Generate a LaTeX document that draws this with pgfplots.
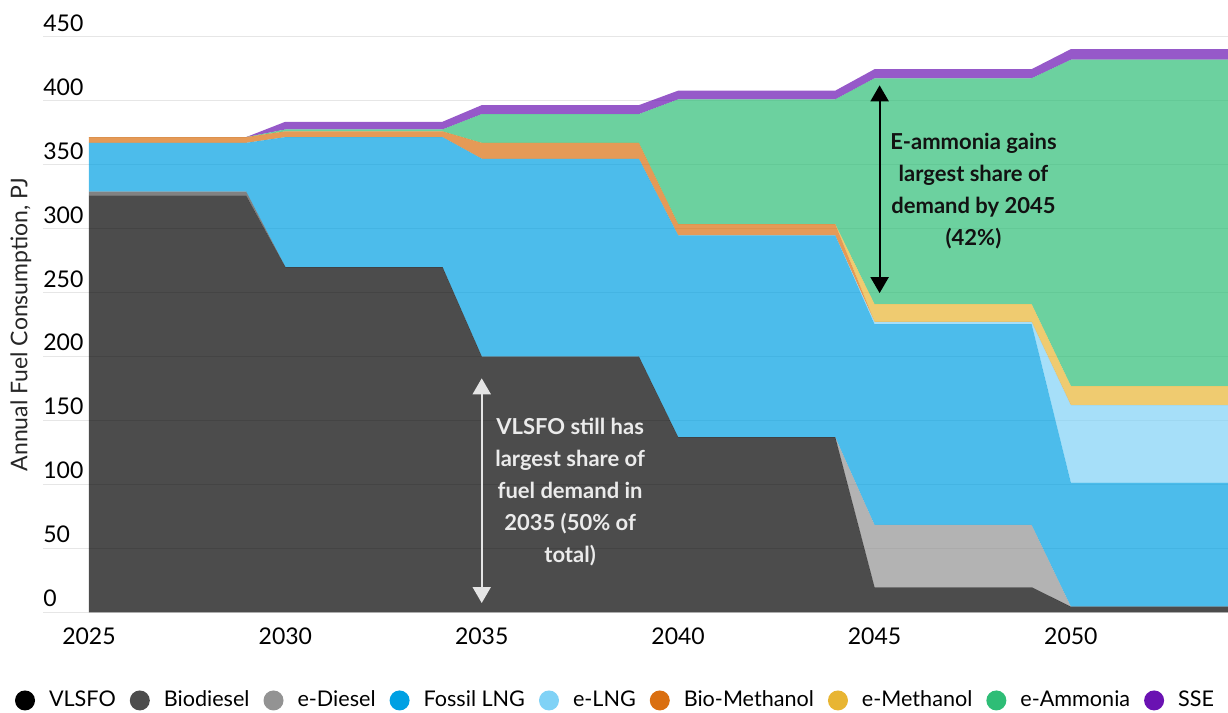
\documentclass[border=0pt]{standalone}
\usepackage{fontspec}
\setmainfont{Lato}
\usepackage{pgfplots}
\usepackage{pgfplotstable}
\pgfplotsset{compat=1.18}
\usetikzlibrary{arrows.meta}
\definecolor{cVLSFO}{HTML}{000000}
\definecolor{cBio}{HTML}{4D4D4D}
\definecolor{cEDiesel}{HTML}{939393}
\definecolor{cLNG}{HTML}{00A0E3}
\definecolor{cELNG}{HTML}{80D2F6}
\definecolor{cBioMeth}{HTML}{DA6F10}
\definecolor{cEMeth}{HTML}{E8B533}
\definecolor{cEAmm}{HTML}{2EBD76}
\definecolor{cSSE}{HTML}{6A12B2}
\definecolor{gridgray}{HTML}{E6E6E6}
\pgfplotstableread{
year VLSFO Bio EDiesel LNG ELNG BioMeth EMeth EAmm SSE
2025 326   3   0      38    0    4.5     0    0     0
2029 326   3   0      38    0    4.5     0    0     0
2030 270   0   0      101.5 0    4.5     0    1.5   6
2034 270   0   0      101.5 0    4.5     0    1.5   6
2035 200   0   0      154.6 0    12.4    0    22.5  7
2039 200   0   0      154.6 0    12.4    0    22.5  7
2040 137   0   0      157.7 0    8.8     0    97.5  6.8
2044 137   0   0      157.7 0    8.8     0    97.5  6.8
2045 19.7  0   48.7   157   1.8  0       13.8 176.5 7.1
2049 19.7  0   48.7   157   1.8  0       13.8 176.5 7.1
2050 4.5   0   0      96.9  60.6 0       15   255   8.3
2054 4.5   0   0      96.9  60.6 0       15   255   8.3
}\data
\begin{document}
\begin{tikzpicture}
\begin{axis}[
  scale only axis, width=592.5pt, height=287.9pt,
  xmin=2023.83, xmax=2054, ymin=0, ymax=450,
  stack plots=y,
  axis line style={draw=none}, major tick length=0pt,
  ymajorgrids, grid style={color=gridgray, line width=0.75pt},
  ytick={0,50,...,450}, xtick={2025,2030,...,2050},
  /pgf/number format/assume math mode=true,
  /pgf/number format/1000 sep={},
  xticklabel style={font=\fontsize{11.5}{13.8}\selectfont, anchor=north, yshift=-4pt},
  yticklabel style={font=\fontsize{11.5}{13.8}\selectfont, anchor=south west, inner xsep=0pt, inner ysep=2.5pt},
  legend columns=-1,
  legend style={at={(0.484,-0.1528)}, anchor=center, draw=none, fill=none,
    font=\fontsize{10.8}{13}\selectfont,
    /tikz/every even column/.append style={column sep=5pt},
    /tikz/every odd column/.append style={column sep=5pt}},
  legend image code/.code={\fill[#1, fill opacity=1, draw=none] (5pt,0pt) circle (5pt);},
]
\addplot[draw=none, fill=cVLSFO, fill opacity=0.7] table[x=year,y=VLSFO]{\data} \closedcycle;
\addlegendentry{VLSFO}
\addplot[draw=none, fill=cBio, fill opacity=0.7] table[x=year,y=Bio]{\data} \closedcycle;
\addlegendentry{Biodiesel}
\addplot[draw=none, fill=cEDiesel, fill opacity=0.7] table[x=year,y=EDiesel]{\data} \closedcycle;
\addlegendentry{e-Diesel}
\addplot[draw=none, fill=cLNG, fill opacity=0.7] table[x=year,y=LNG]{\data} \closedcycle;
\addlegendentry{Fossil LNG}
\addplot[draw=none, fill=cELNG, fill opacity=0.7] table[x=year,y=ELNG]{\data} \closedcycle;
\addlegendentry{e-LNG}
\addplot[draw=none, fill=cBioMeth, fill opacity=0.7] table[x=year,y=BioMeth]{\data} \closedcycle;
\addlegendentry{Bio-Methanol}
\addplot[draw=none, fill=cEMeth, fill opacity=0.7] table[x=year,y=EMeth]{\data} \closedcycle;
\addlegendentry{e-Methanol}
\addplot[draw=none, fill=cEAmm, fill opacity=0.7] table[x=year,y=EAmm]{\data} \closedcycle;
\addlegendentry{e-Ammonia}
\addplot[draw=none, fill=cSSE, fill opacity=0.7] table[x=year,y=SSE]{\data} \closedcycle;
\addlegendentry{SSE}
\coordinate (wa) at (axis cs:2035,183);
\coordinate (wb) at (axis cs:2035,7.4);
\coordinate (wt) at (axis cs:2037.25,93.75);
\coordinate (ba) at (axis cs:2045.13,412);
\coordinate (bb) at (axis cs:2045.13,249.6);
\coordinate (bt) at (axis cs:2047.52,329.7);
\end{axis}
\draw[color=white!90!black, line width=1pt, {Triangle[width=9pt,length=8pt]}-{Triangle[width=9pt,length=8pt]}] (wa) -- (wb);
\node[text=white!92!black, font=\bfseries\fontsize{11}{16}\selectfont, align=center]
  at (wt) {VLSFO still has\\largest share of\\fuel demand in\\2035 (50\% of\\total)};
\draw[color=black, line width=1pt, {Triangle[width=9pt,length=8pt]}-{Triangle[width=9pt,length=8pt]}] (ba) -- (bb);
\node[text=black!93!white, font=\bfseries\fontsize{11}{16}\selectfont, align=center]
  at (bt) {E-ammonia gains\\largest share of\\demand by 2045\\(42\%)};
\node[rotate=90, font=\fontsize{11.5}{13.8}\selectfont, text=black!85!white] at ([xshift=-11pt]current axis.west) {Annual Fuel Consumption, PJ};
\pgfresetboundingbox
\path[use as bounding box] ([xshift=-21.5pt,yshift=-50.25pt]current axis.south west) rectangle ([yshift=18.35pt]current axis.north east);
\end{tikzpicture}
\end{document}
